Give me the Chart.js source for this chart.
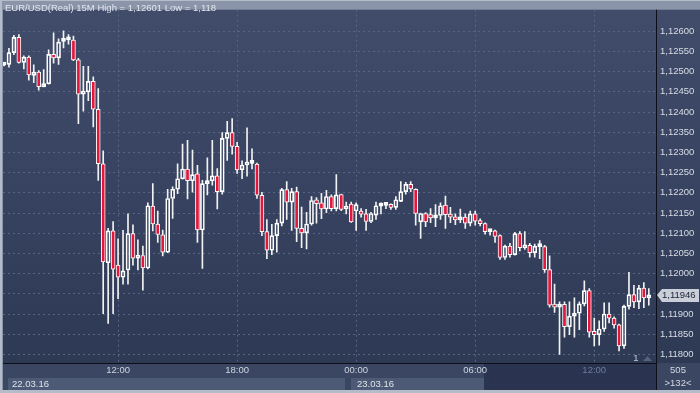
<!DOCTYPE html>
<html>
<head>
<meta charset="utf-8">
<title>EUR/USD 15M</title>
<script src="https://cdn.jsdelivr.net/npm/chart.js@4.4.1/dist/chart.umd.min.js"></script>
<style>
  html, body { margin: 0; padding: 0; background: #b4bcc9; }
  #chart { display: block; }
</style>
</head>
<body>
<canvas id="chart" width="700" height="393"></canvas>
<script>
// 15 minute candles, 22.03.16 06:15 .. 23.03.16 14:45
const opens = [
  1.12516, 1.12518, 1.12547, 1.12585, 1.12523, 1.12536, 1.12491, 1.12499, 1.12463, 1.12470,
  1.12543, 1.12534, 1.12575, 1.12579, 1.12578, 1.12529, 1.12444, 1.12450, 1.12476, 1.12407,
  1.12272, 1.12027, 1.12106, 1.12021, 1.11991, 1.12009, 1.12099, 1.12038, 1.12045, 1.12014,
  1.12167, 1.12123, 1.12096, 1.12053, 1.12186, 1.12209, 1.12235, 1.12259, 1.12230, 1.12247,
  1.12108, 1.12223, 1.12230, 1.12242, 1.12203, 1.12335, 1.12349, 1.12315, 1.12257, 1.12269,
  1.12273, 1.12271, 1.12194, 1.12104, 1.12058, 1.12094, 1.12125, 1.12208, 1.12177, 1.12203,
  1.12112, 1.12101, 1.12123, 1.12183, 1.12175, 1.12160, 1.12191, 1.12161, 1.12196, 1.12160,
  1.12172, 1.12155, 1.12155, 1.12148, 1.12129, 1.12145, 1.12167, 1.12169, 1.12170, 1.12164,
  1.12179, 1.12203, 1.12221, 1.12209, 1.12128, 1.12149, 1.12146, 1.12138, 1.12144, 1.12170,
  1.12145, 1.12140, 1.12133, 1.12140, 1.12125, 1.12148, 1.12130, 1.12124, 1.12104, 1.12106,
  1.12094, 1.12040, 1.12068, 1.12047, 1.12099, 1.12064, 1.12070, 1.12052, 1.12067, 1.12067,
  1.12010, 1.11924, 1.11917, 1.11924, 1.11869, 1.11895, 1.11902, 1.11925, 1.11958, 1.11857,
  1.11849, 1.11863, 1.11900, 1.11890, 1.11873, 1.11821, 1.11919, 1.11948, 1.11930, 1.11964,
  1.11940
];
const highs = [
  1.12520, 1.12558, 1.12590, 1.12592, 1.12539, 1.12539, 1.12517, 1.12503, 1.12505, 1.12554,
  1.12596, 1.12581, 1.12601, 1.12592, 1.12588, 1.12533, 1.12513, 1.12513, 1.12487, 1.12458,
  1.12304, 1.12112, 1.12129, 1.12086, 1.12107, 1.12148, 1.12121, 1.12084, 1.12068, 1.12175,
  1.12223, 1.12155, 1.12108, 1.12209, 1.12215, 1.12272, 1.12321, 1.12330, 1.12306, 1.12268,
  1.12231, 1.12287, 1.12330, 1.12260, 1.12349, 1.12377, 1.12384, 1.12325, 1.12279, 1.12361,
  1.12309, 1.12274, 1.12201, 1.12134, 1.12122, 1.12134, 1.12211, 1.12228, 1.12211, 1.12214,
  1.12165, 1.12152, 1.12191, 1.12188, 1.12199, 1.12206, 1.12195, 1.12245, 1.12197, 1.12177,
  1.12177, 1.12175, 1.12161, 1.12159, 1.12152, 1.12177, 1.12175, 1.12173, 1.12173, 1.12191,
  1.12228, 1.12226, 1.12228, 1.12210, 1.12150, 1.12151, 1.12161, 1.12171, 1.12175, 1.12192,
  1.12164, 1.12148, 1.12160, 1.12148, 1.12155, 1.12155, 1.12136, 1.12126, 1.12110, 1.12108,
  1.12096, 1.12071, 1.12075, 1.12102, 1.12104, 1.12104, 1.12075, 1.12073, 1.12082, 1.12070,
  1.12044, 1.11974, 1.11930, 1.11930, 1.11930, 1.11940, 1.11930, 1.11982, 1.11963, 1.11890,
  1.11883, 1.11928, 1.11928, 1.11893, 1.11875, 1.11922, 1.12003, 1.11971, 1.11971, 1.11978,
  1.11963
];
const lows = [
  1.12514, 1.12511, 1.12542, 1.12521, 1.12507, 1.12479, 1.12473, 1.12454, 1.12462, 1.12469,
  1.12521, 1.12518, 1.12559, 1.12568, 1.12527, 1.12371, 1.12402, 1.12428, 1.12363, 1.12231,
  1.11901, 1.11877, 1.11901, 1.11938, 1.11974, 1.11974, 1.12021, 1.12009, 1.11959, 1.12012,
  1.12106, 1.12077, 1.12044, 1.12052, 1.12137, 1.12198, 1.12234, 1.12185, 1.12202, 1.12077,
  1.12013, 1.12195, 1.12219, 1.12160, 1.12197, 1.12280, 1.12296, 1.12248, 1.12235, 1.12241,
  1.12259, 1.12186, 1.12094, 1.12037, 1.12047, 1.12053, 1.12118, 1.12134, 1.12107, 1.12079,
  1.12064, 1.12061, 1.12120, 1.12125, 1.12136, 1.12151, 1.12155, 1.12155, 1.12156, 1.12148,
  1.12127, 1.12107, 1.12140, 1.12107, 1.12126, 1.12134, 1.12148, 1.12161, 1.12159, 1.12159,
  1.12178, 1.12197, 1.12203, 1.12120, 1.12087, 1.12116, 1.12126, 1.12116, 1.12134, 1.12112,
  1.12126, 1.12121, 1.12126, 1.12112, 1.12118, 1.12120, 1.12118, 1.12098, 1.12095, 1.12077,
  1.12035, 1.12035, 1.12041, 1.12046, 1.12056, 1.12060, 1.12041, 1.12041, 1.12037, 1.12003,
  1.11917, 1.11904, 1.11800, 1.11843, 1.11849, 1.11843, 1.11861, 1.11920, 1.11843, 1.11821,
  1.11823, 1.11857, 1.11878, 1.11865, 1.11809, 1.11815, 1.11912, 1.11916, 1.11913, 1.11916,
  1.11922
];
const closes = [
  1.12517, 1.12547, 1.12585, 1.12523, 1.12536, 1.12492, 1.12499, 1.12463, 1.12470, 1.12543,
  1.12534, 1.12573, 1.12580, 1.12580, 1.12529, 1.12444, 1.12452, 1.12476, 1.12407, 1.12272,
  1.12029, 1.12106, 1.12011, 1.11991, 1.12007, 1.12099, 1.12038, 1.12046, 1.12014, 1.12168,
  1.12123, 1.12097, 1.12053, 1.12186, 1.12209, 1.12235, 1.12259, 1.12230, 1.12245, 1.12108,
  1.12223, 1.12229, 1.12242, 1.12203, 1.12335, 1.12349, 1.12315, 1.12257, 1.12269, 1.12275,
  1.12274, 1.12194, 1.12104, 1.12058, 1.12094, 1.12125, 1.12208, 1.12177, 1.12203, 1.12112,
  1.12101, 1.12123, 1.12181, 1.12173, 1.12160, 1.12191, 1.12161, 1.12195, 1.12159, 1.12167,
  1.12128, 1.12171, 1.12147, 1.12129, 1.12149, 1.12168, 1.12170, 1.12170, 1.12164, 1.12183,
  1.12203, 1.12221, 1.12210, 1.12149, 1.12149, 1.12128, 1.12138, 1.12139, 1.12168, 1.12146,
  1.12140, 1.12133, 1.12140, 1.12125, 1.12148, 1.12130, 1.12124, 1.12104, 1.12105, 1.12092,
  1.12040, 1.12068, 1.12047, 1.12099, 1.12064, 1.12070, 1.12052, 1.12068, 1.12068, 1.12010,
  1.11922, 1.11917, 1.11924, 1.11869, 1.11895, 1.11902, 1.11925, 1.11958, 1.11855, 1.11849,
  1.11863, 1.11900, 1.11890, 1.11873, 1.11821, 1.11919, 1.11948, 1.11930, 1.11964, 1.11940,
  1.11946
];

const timeLabels = ['12:00', '18:00', '00:00', '06:00', '12:00'];
const timeTickIdx = [23, 47, 71, 95, 119];
const dayLabels = ['22.03.16', '23.03.16'];
const priceTicks = [
  1.11800, 1.11850, 1.11900, 1.11950, 1.12000, 1.12050, 1.12100, 1.12150, 1.12200,
  1.12250, 1.12300, 1.12350, 1.12400, 1.12450, 1.12500, 1.12550, 1.12600
];
const titleText = 'EUR/USD(Real) 15M High = 1,12601 Low = 1,118';
const barInfo = ['505', '>132<'];

const FONT = '"Liberation Sans", Arial, sans-serif';
const fmtPrice = v => v.toFixed(5).replace('.', ',');

// candle pieces for floating bars
const upperWicks = opens.map((o, i) => ({ x: i, y: [Math.max(o, closes[i]), highs[i]] }));
const lowerWicks = opens.map((o, i) => ({ x: i, y: [lows[i], Math.min(o, closes[i])] }));
const bodies = opens.map((o, i) => ({ x: i, y: [o, closes[i]] }));
const bodyFill = opens.map((o, i) => closes[i] < o ? '#e3173b' : 'rgba(0,0,0,0)');

const frame = {
  id: 'frame',
  beforeDraw(chart) {
    const { ctx, chartArea: a } = chart;
    ctx.save();
    ctx.fillStyle = '#b4bcc9';
    ctx.fillRect(0, 0, 700, 393);
    ctx.fillStyle = '#8a95aa';
    ctx.fillRect(2, 1, 698, 389);

    const g = ctx.createLinearGradient(0, a.top, 0, a.bottom);
    g.addColorStop(0, '#404c6a');
    g.addColorStop(0.55, '#36425f');
    g.addColorStop(1, '#2e3954');
    ctx.fillStyle = g;
    ctx.fillRect(a.left, a.top, 700 - a.left, a.bottom - a.top);

    // time axis + date rows
    ctx.fillStyle = '#3a4662';
    ctx.fillRect(a.left, a.bottom, 700 - a.left, 390 - a.bottom);
    ctx.fillStyle = '#2a3450';
    ctx.fillRect(484, a.bottom, a.right - 484, 390 - a.bottom);
    ctx.fillStyle = '#4d5a76';
    ctx.fillRect(8, 378, 337, 12);
    ctx.fillRect(351, 378, 133, 12);
    ctx.restore();
  },
  afterDraw(chart) {
    const { ctx, chartArea: a } = chart;
    ctx.save();
    ctx.fillStyle = '#0b0f18';
    ctx.fillRect(a.right, a.top, 1, 390 - a.top);
    ctx.fillRect(a.left, a.bottom, a.right - a.left, 1);

    ctx.font = '9.5px ' + FONT;
    ctx.textBaseline = 'middle';
    ctx.textAlign = 'left';
    ctx.fillStyle = '#e2e6ee';
    ctx.fillText(titleText, 5, 8);

    ctx.fillStyle = '#dfe3ea';
    ctx.fillText(dayLabels[0], 12, 384.5);
    ctx.fillText(dayLabels[1], 357, 384.5);

    ctx.textAlign = 'center';
    ctx.fillStyle = '#d5d9e2';
    ctx.fillText(barInfo[0], 678, 370.5);
    ctx.fillText(barInfo[1], 678, 383.5);

    ctx.fillStyle = '#c0c8d6';
    ctx.fillText('1', 636, 358);
    ctx.fillStyle = '#56617e';
    ctx.beginPath();
    ctx.moveTo(643, 361);
    ctx.lineTo(652, 361);
    ctx.lineTo(647.5, 356);
    ctx.closePath();
    ctx.fill();

    // last price tag
    const last = closes[closes.length - 1];
    const y = Math.round(chart.scales.y.getPixelForValue(last));
    ctx.fillStyle = '#c9ced8';
    ctx.beginPath();
    ctx.moveTo(657, y);
    ctx.lineTo(662, y - 6);
    ctx.lineTo(699, y - 6);
    ctx.lineTo(699, y + 7);
    ctx.lineTo(662, y + 7);
    ctx.closePath();
    ctx.fill();
    ctx.fillStyle = '#1c2130';
    ctx.textAlign = 'left';
    ctx.fillText(fmtPrice(last), 662, y + 0.5);
    ctx.restore();
  }
};

const wickStyle = {
  type: 'bar',
  backgroundColor: '#f2f2f2',
  borderWidth: 0,
  barThickness: 1,
  grouped: false,
  order: 2
};

new Chart(document.getElementById('chart'), {
  type: 'bar',
  data: {
    datasets: [
      Object.assign({ label: 'high', data: upperWicks }, wickStyle),
      Object.assign({ label: 'low', data: lowerWicks }, wickStyle),
      {
        label: 'EUR/USD',
        data: bodies,
        backgroundColor: bodyFill,
        borderColor: '#ffffff',
        borderWidth: 1,
        borderSkipped: false,
        barThickness: 4,
        minBarLength: 3,
        grouped: false,
        order: 1
      }
    ]
  },
  options: {
    responsive: false,
    devicePixelRatio: 1,
    animation: false,
    layout: { padding: { left: 3, top: 3, right: 0, bottom: 15 } },
    plugins: {
      legend: { display: false },
      tooltip: { enabled: false }
    },
    scales: {
      x: {
        type: 'linear',
        min: -0.2,
        max: 131.45,
        offset: false,
        grid: { color: '#586482', offset: false, drawTicks: false },
        border: { display: false, dash: [2, 3] },
        afterBuildTicks: s => { s.ticks = timeTickIdx.map(v => ({ value: v })); },
        afterFit: s => { s.height = 15; },
        ticks: {
          autoSkip: false,
          maxRotation: 0,
          padding: 2,
          font: { family: FONT, size: 9.5 },
          color: c => c.index === timeLabels.length - 1 ? '#6e7c9c' : '#cfd5e0',
          callback: (v, i) => timeLabels[i]
        }
      },
      y: {
        position: 'right',
        min: 1.117788,
        max: 1.126534,
        beginAtZero: false,
        grid: { color: '#586482', drawTicks: false },
        border: { display: false, dash: [2, 3] },
        afterBuildTicks: s => { s.ticks = priceTicks.map(v => ({ value: v })); },
        afterFit: s => { s.width = 44; },
        ticks: {
          autoSkip: false,
          padding: 4,
          crossAlign: 'near',
          font: { family: FONT, size: 9.5 },
          color: '#d9dde6',
          callback: v => fmtPrice(v)
        }
      }
    }
  },
  plugins: [frame]
});
</script>
</body>
</html>
